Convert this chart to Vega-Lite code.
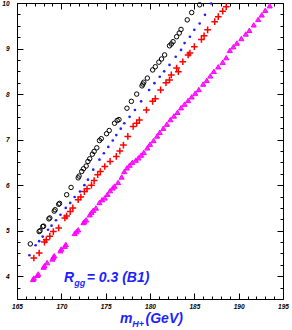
{
  "$schema": "https://vega.github.io/schema/vega-lite/v6.json",
  "width": 266,
  "height": 296,
  "autosize": "none",
  "padding": {"left": 17, "top": 3, "right": 9, "bottom": 31},
  "config": {"view": {"stroke": "black", "strokeWidth": 1}},
  "datasets": {
    "pts": [
      {"s":"circ","x":166.5,"y":4.71},{"s":"circ","x":167.5,"y":4.98},{"s":"circ","x":167.6,"y":5.0},{"s":"circ","x":167.9,"y":5.09},{"s":"circ","x":168.0,"y":5.1},{"s":"circ","x":168.6,"y":5.26},{"s":"circ","x":168.7,"y":5.28},{"s":"circ","x":169.2,"y":5.43},{"s":"circ","x":169.3,"y":5.46},{"s":"circ","x":169.7,"y":5.58},{"s":"circ","x":169.8,"y":5.6},{"s":"circ","x":170.6,"y":5.79},{"s":"circ","x":171.1,"y":5.95},{"s":"circ","x":171.9,"y":6.16},{"s":"circ","x":172.0,"y":6.2},{"s":"circ","x":172.3,"y":6.3},{"s":"circ","x":172.5,"y":6.36},{"s":"circ","x":172.8,"y":6.42},{"s":"circ","x":173.0,"y":6.52},{"s":"circ","x":173.2,"y":6.58},{"s":"circ","x":173.5,"y":6.68},{"s":"circ","x":173.7,"y":6.74},{"s":"circ","x":174.0,"y":6.82},{"s":"circ","x":174.3,"y":6.98},{"s":"circ","x":174.5,"y":7.02},{"s":"circ","x":175.1,"y":7.13},{"s":"circ","x":175.4,"y":7.2},{"s":"circ","x":176.0,"y":7.36},{"s":"circ","x":176.3,"y":7.42},{"s":"circ","x":176.5,"y":7.44},{"s":"circ","x":177.4,"y":7.69},{"s":"circ","x":177.9,"y":7.84},{"s":"circ","x":178.5,"y":8.0},{"s":"circ","x":179.1,"y":8.18},{"s":"circ","x":179.2,"y":8.22},{"s":"circ","x":179.3,"y":8.26},{"s":"circ","x":179.7,"y":8.35},{"s":"circ","x":180.3,"y":8.53},{"s":"circ","x":180.6,"y":8.6},{"s":"circ","x":181.0,"y":8.7},{"s":"circ","x":181.3,"y":8.77},{"s":"circ","x":181.65,"y":8.86},{"s":"circ","x":182.2,"y":9.06},{"s":"circ","x":182.4,"y":9.1},{"s":"circ","x":182.6,"y":9.15},{"s":"circ","x":183.0,"y":9.26},{"s":"circ","x":183.3,"y":9.34},{"s":"circ","x":183.5,"y":9.42},{"s":"circ","x":184.2,"y":9.63},{"s":"circ","x":184.7,"y":9.79},{"s":"circ","x":185.6,"y":9.96},
      {"s":"dot","x":166.4,"y":4.46},{"s":"dot","x":167.1,"y":4.68},{"s":"dot","x":167.5,"y":4.77},{"s":"dot","x":167.9,"y":4.87},{"s":"dot","x":168.5,"y":5.02},{"s":"dot","x":168.9,"y":5.11},{"s":"dot","x":169.4,"y":5.23},{"s":"dot","x":169.9,"y":5.35},{"s":"dot","x":170.5,"y":5.5},{"s":"dot","x":171.0,"y":5.61},{"s":"dot","x":171.5,"y":5.74},{"s":"dot","x":172.1,"y":5.86},{"s":"dot","x":172.6,"y":6.0},{"s":"dot","x":173.0,"y":6.12},{"s":"dot","x":173.6,"y":6.34},{"s":"dot","x":174.3,"y":6.56},{"s":"dot","x":174.8,"y":6.7},{"s":"dot","x":175.3,"y":6.84},{"s":"dot","x":175.8,"y":6.98},{"s":"dot","x":176.2,"y":7.1},{"s":"dot","x":176.7,"y":7.24},{"s":"dot","x":177.1,"y":7.36},{"s":"dot","x":177.7,"y":7.5},{"s":"dot","x":178.3,"y":7.65},{"s":"dot","x":179.0,"y":7.84},{"s":"dot","x":179.9,"y":8.09},{"s":"dot","x":180.5,"y":8.24},{"s":"dot","x":181.1,"y":8.38},{"s":"dot","x":181.6,"y":8.5},{"s":"dot","x":182.2,"y":8.64},{"s":"dot","x":182.9,"y":8.82},{"s":"dot","x":183.5,"y":8.97},{"s":"dot","x":183.9,"y":9.12},{"s":"dot","x":184.5,"y":9.26},{"s":"dot","x":185.0,"y":9.41},{"s":"dot","x":185.6,"y":9.55},{"s":"dot","x":186.2,"y":9.74},{"s":"dot","x":186.9,"y":9.99},
      {"s":"plus","x":166.9,"y":4.4},{"s":"plus","x":167.5,"y":4.51},{"s":"plus","x":168.1,"y":4.75},{"s":"plus","x":168.3,"y":4.8},{"s":"plus","x":168.7,"y":4.88},{"s":"plus","x":169.1,"y":4.98},{"s":"plus","x":169.7,"y":5.06},{"s":"plus","x":170.4,"y":5.28},{"s":"plus","x":170.6,"y":5.32},{"s":"plus","x":171.0,"y":5.42},{"s":"plus","x":171.3,"y":5.5},{"s":"plus","x":171.9,"y":5.68},{"s":"plus","x":172.2,"y":5.74},{"s":"plus","x":172.6,"y":5.86},{"s":"plus","x":172.9,"y":5.92},{"s":"plus","x":173.4,"y":6.0},{"s":"plus","x":173.7,"y":6.1},{"s":"plus","x":174.1,"y":6.23},{"s":"plus","x":174.4,"y":6.3},{"s":"plus","x":174.9,"y":6.41},{"s":"plus","x":175.5,"y":6.52},{"s":"plus","x":176.2,"y":6.63},{"s":"plus","x":176.6,"y":6.75},{"s":"plus","x":177.0,"y":6.88},{"s":"plus","x":177.5,"y":7.07},{"s":"plus","x":178.1,"y":7.29},{"s":"plus","x":178.5,"y":7.36},{"s":"plus","x":178.8,"y":7.43},{"s":"plus","x":179.6,"y":7.65},{"s":"plus","x":180.3,"y":7.84},{"s":"plus","x":180.6,"y":7.9},{"s":"plus","x":181.2,"y":8.09},{"s":"plus","x":181.8,"y":8.25},{"s":"plus","x":182.2,"y":8.31},{"s":"plus","x":182.4,"y":8.42},{"s":"plus","x":183.0,"y":8.57},{"s":"plus","x":183.2,"y":8.49},{"s":"plus","x":183.7,"y":8.71},{"s":"plus","x":184.3,"y":8.86},{"s":"plus","x":184.5,"y":8.9},{"s":"plus","x":185.0,"y":9.04},{"s":"plus","x":185.8,"y":9.2},{"s":"plus","x":186.1,"y":9.28},{"s":"plus","x":186.5,"y":9.41},{"s":"plus","x":187.3,"y":9.59},{"s":"plus","x":187.7,"y":9.7},{"s":"plus","x":188.2,"y":9.82},{"s":"plus","x":188.6,"y":9.92},
      {"s":"tri","x":166.8,"y":3.93},{"s":"tri","x":166.9,"y":3.96},{"s":"tri","x":167.3,"y":4.02},{"s":"tri","x":167.4,"y":4.05},{"s":"tri","x":168.0,"y":4.2},{"s":"tri","x":168.1,"y":4.23},{"s":"tri","x":168.4,"y":4.3},{"s":"tri","x":169.0,"y":4.38},{"s":"tri","x":169.1,"y":4.42},{"s":"tri","x":169.2,"y":4.45},{"s":"tri","x":169.9,"y":4.56},{"s":"tri","x":170.0,"y":4.6},{"s":"tri","x":170.4,"y":4.66},{"s":"tri","x":170.5,"y":4.7},{"s":"tri","x":171.5,"y":4.94},{"s":"tri","x":171.7,"y":4.98},{"s":"tri","x":171.9,"y":5.02},{"s":"tri","x":172.5,"y":5.18},{"s":"tri","x":172.6,"y":5.2},{"s":"tri","x":172.8,"y":5.24},{"s":"tri","x":173.2,"y":5.35},{"s":"tri","x":173.4,"y":5.4},{"s":"tri","x":173.6,"y":5.45},{"s":"tri","x":173.9,"y":5.5},{"s":"tri","x":174.3,"y":5.62},{"s":"tri","x":174.6,"y":5.68},{"s":"tri","x":174.9,"y":5.72},{"s":"tri","x":175.2,"y":5.8},{"s":"tri","x":175.5,"y":5.88},{"s":"tri","x":175.8,"y":5.94},{"s":"tri","x":176.0,"y":5.98},{"s":"tri","x":176.4,"y":6.06},{"s":"tri","x":176.8,"y":6.18},{"s":"tri","x":177.1,"y":6.3},{"s":"tri","x":177.4,"y":6.38},{"s":"tri","x":177.7,"y":6.44},{"s":"tri","x":178.0,"y":6.5},{"s":"tri","x":178.4,"y":6.55},{"s":"tri","x":178.7,"y":6.6},{"s":"tri","x":179.0,"y":6.66},{"s":"tri","x":179.3,"y":6.72},{"s":"tri","x":179.7,"y":6.82},{"s":"tri","x":180.0,"y":6.9},{"s":"tri","x":180.4,"y":6.98},{"s":"tri","x":180.8,"y":7.08},{"s":"tri","x":181.1,"y":7.16},{"s":"tri","x":181.5,"y":7.25},{"s":"tri","x":181.9,"y":7.34},{"s":"tri","x":182.3,"y":7.44},{"s":"tri","x":182.7,"y":7.52},{"s":"tri","x":183.1,"y":7.6},{"s":"tri","x":183.5,"y":7.7},{"s":"tri","x":183.9,"y":7.78},{"s":"tri","x":184.3,"y":7.86},{"s":"tri","x":184.7,"y":7.94},{"s":"tri","x":185.1,"y":8.02},{"s":"tri","x":185.5,"y":8.1},{"s":"tri","x":186.0,"y":8.22},{"s":"tri","x":186.4,"y":8.3},{"s":"tri","x":186.8,"y":8.4},{"s":"tri","x":187.2,"y":8.5},{"s":"tri","x":187.7,"y":8.6},{"s":"tri","x":188.2,"y":8.7},{"s":"tri","x":188.6,"y":8.8},{"s":"tri","x":189.0,"y":8.96},{"s":"tri","x":189.4,"y":9.04},{"s":"tri","x":189.8,"y":9.12},{"s":"tri","x":190.3,"y":9.22},{"s":"tri","x":190.8,"y":9.32},{"s":"tri","x":191.2,"y":9.4},{"s":"tri","x":191.7,"y":9.52},{"s":"tri","x":192.2,"y":9.64},{"s":"tri","x":192.6,"y":9.74},{"s":"tri","x":193.0,"y":9.84},{"s":"tri","x":193.5,"y":9.94}
    ]
  },
  "resolve": {"axis": {"x": "independent", "y": "independent"}},
  "layer": [
    {
      "data": {"name": "pts"},
      "transform": [{"filter": "datum.s === 'circ'"}],
      "mark": {"type": "point", "shape": "circle", "filled": false, "stroke": "black", "strokeWidth": 1, "size": 20, "opacity": 1},
      "encoding": {
        "x": {"field": "x", "type": "quantitative", "scale": {"domain": [165, 195], "nice": false, "zero": false},
          "axis": {"orient": "bottom", "title": null, "domain": false, "grid": false,
            "values": [165,166,167,168,169,170,171,172,173,174,175,176,177,178,179,180,181,182,183,184,185,186,187,188,189,190,191,192,193,194,195],
            "tickSize": {"condition": {"test": "datum.value % 5 === 0", "value": -6}, "value": -3},
            "tickColor": "black", "tickWidth": 1,
            "labelExpr": "datum.value % 5 === 0 ? datum.label : ''",
            "labelFont": "Liberation Sans", "labelFontSize": 6.5, "labelFontWeight": "bold", "labelFontStyle": "italic", "labelColor": "black",
            "labelPadding": 10, "labelFlush": false, "labelOverlap": false}},
        "y": {"field": "y", "type": "quantitative", "scale": {"domain": [3.5, 10], "nice": false, "zero": false},
          "axis": {"orient": "left", "title": null, "domain": false, "grid": false,
            "values": [3.5,3.75,4,4.25,4.5,4.75,5,5.25,5.5,5.75,6,6.25,6.5,6.75,7,7.25,7.5,7.75,8,8.25,8.5,8.75,9,9.25,9.5,9.75,10],
            "tickSize": {"condition": {"test": "datum.value % 1 === 0", "value": -6}, "value": -3},
            "tickColor": "black", "tickWidth": 1,
            "labelExpr": "datum.value % 1 === 0 ? format(datum.value, 'd') : ''",
            "labelFont": "Liberation Sans", "labelFontSize": 6.5, "labelFontWeight": "bold", "labelFontStyle": "italic", "labelColor": "black",
            "labelPadding": 14, "labelFlush": false, "labelOverlap": false}}
      }
    },
    {
      "data": {"name": "pts"},
      "transform": [{"filter": "datum.s === 'dot'"}],
      "mark": {"type": "point", "shape": "circle", "filled": true, "color": "#1f1fff", "size": 7, "opacity": 1},
      "encoding": {
        "x": {"field": "x", "type": "quantitative", "axis": null},
        "y": {"field": "y", "type": "quantitative", "axis": null}
      }
    },
    {
      "data": {"name": "pts"},
      "transform": [{"filter": "datum.s === 'plus'"}],
      "mark": {"type": "point", "shape": "M-1,0L1,0M0,-1L0,1", "filled": false, "stroke": "#ff0000", "strokeWidth": 1.5, "size": 45, "opacity": 1},
      "encoding": {
        "x": {"field": "x", "type": "quantitative", "axis": null},
        "y": {"field": "y", "type": "quantitative", "axis": null}
      }
    },
    {
      "data": {"name": "pts"},
      "transform": [{"filter": "datum.s === 'tri'"}],
      "mark": {"type": "point", "shape": "triangle-up", "filled": false, "stroke": "#ff00ff", "fill": "#ff00ff", "fillOpacity": 0.85, "strokeWidth": 1, "size": 26, "opacity": 1},
      "encoding": {
        "x": {"field": "x", "type": "quantitative",
          "axis": {"orient": "top", "title": null, "domain": false, "grid": false, "labels": false,
            "values": [165,166,167,168,169,170,171,172,173,174,175,176,177,178,179,180,181,182,183,184,185,186,187,188,189,190,191,192,193,194,195],
            "tickSize": {"condition": {"test": "datum.value % 5 === 0", "value": -6}, "value": -3},
            "tickColor": "black", "tickWidth": 1}},
        "y": {"field": "y", "type": "quantitative",
          "axis": {"orient": "right", "title": null, "domain": false, "grid": false, "labels": false,
            "values": [3.5,3.75,4,4.25,4.5,4.75,5,5.25,5.5,5.75,6,6.25,6.5,6.75,7,7.25,7.5,7.75,8,8.25,8.5,8.75,9,9.25,9.5,9.75,10],
            "tickSize": {"condition": {"test": "datum.value % 1 === 0", "value": -6}, "value": -3},
            "tickColor": "black", "tickWidth": 1}}
      }
    },
    {
      "data": {"values": [{"x": 170.3, "y": 3.88, "t": "R"}, {"x": 172.87, "y": 3.88, "t": "= 0.3 (B1)"}, {"x": 176.62, "y": 2.967, "t": "m"}, {"x": 179.5, "y": 2.967, "t": "(GeV)"}]},
      "mark": {"type": "text", "align": "left", "baseline": "alphabetic", "font": "Liberation Sans", "fontSize": 14, "fontWeight": "bold", "fontStyle": "italic", "color": "#1f1fff"},
      "encoding": {
        "x": {"field": "x", "type": "quantitative", "axis": null},
        "y": {"field": "y", "type": "quantitative", "axis": null},
        "text": {"field": "t"}
      }
    },
    {
      "data": {"values": [{"x": 171.45, "y": 3.775, "t": "gg"}, {"x": 177.99, "y": 2.892, "t": "H+"}]},
      "mark": {"type": "text", "align": "left", "baseline": "alphabetic", "font": "Liberation Sans", "fontSize": 9, "fontWeight": "bold", "fontStyle": "italic", "color": "#1f1fff"},
      "encoding": {
        "x": {"field": "x", "type": "quantitative", "axis": null},
        "y": {"field": "y", "type": "quantitative", "axis": null},
        "text": {"field": "t"}
      }
    }
  ]
}
